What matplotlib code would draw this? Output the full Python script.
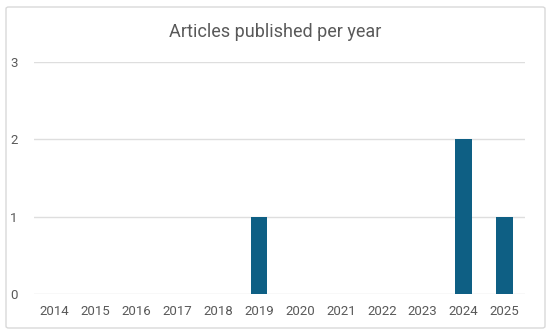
import matplotlib
matplotlib.use("Agg")
import matplotlib.pyplot as plt
from matplotlib.patches import FancyBboxPatch

years = ["2014", "2015", "2016", "2017", "2018", "2019", "2020", "2021", "2022", "2023", "2024", "2025"]
counts = [0, 0, 0, 0, 0, 1, 0, 0, 0, 0, 2, 1]
y_ticks = [0, 1, 2, 3]

plt.rcParams['font.family'] = ['Roboto', 'DejaVu Sans']
text_color = "#595959"

fig = plt.figure(figsize=(5.5, 3.35), dpi=100)
border = FancyBboxPatch((6/550, 7/335), 539/550, 321/335, boxstyle="round,pad=0,rounding_size=0.005",
                        transform=fig.transFigure, facecolor="none", edgecolor="#d9d9d9",
                        linewidth=1.0, zorder=-10)
fig.patches.append(border)

ax = fig.add_axes([34/550, 1 - 294/335, 491/550, (294 - 62)/335])
x = range(len(years))
ax.bar(x, counts, width=0.4, color="#0E5F84", zorder=3)
ax.set_xlim(-0.5, len(years) - 0.5)
ax.set_ylim(0, 3)
ax.set_yticks(y_ticks)
ax.set_xticks(list(x))
ax.set_xticklabels(years)
ax.yaxis.grid(True, color="#dedede", linewidth=1.0, zorder=0)
ax.set_axisbelow(True)
for s in ax.spines.values():
    s.set_visible(False)
ax.tick_params(axis='both', length=0, colors=text_color, labelsize=9.5)
ax.tick_params(axis='x', pad=8)
ax.tick_params(axis='y', pad=17)
for lbl in ax.get_yticklabels():
    lbl.set_horizontalalignment('left')
ax.patch.set_alpha(0)

fig.text(0.5, 1 - 32/335, "Articles published per year", ha="center", va="center",
         fontsize=13, color=text_color)

fig.savefig("out.png", dpi=100)
